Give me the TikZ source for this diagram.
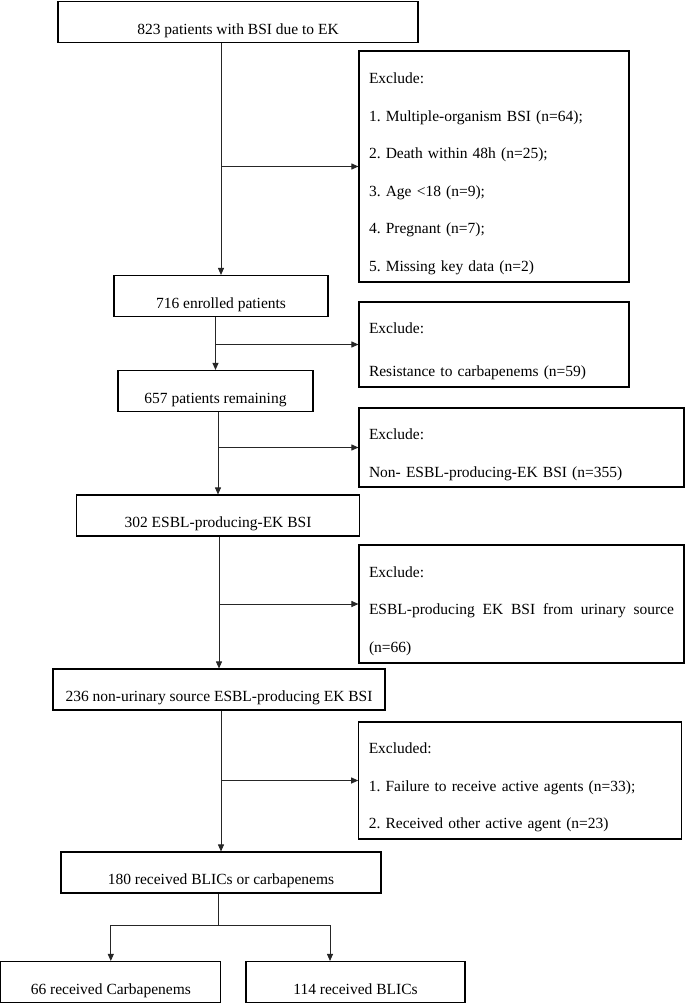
\documentclass[tikz,border=0pt]{standalone}
\usepackage{fontspec}
\setmainfont{Liberation Serif}
\usetikzlibrary{arrows.meta}
\frenchspacing

% Styles du diagramme
\tikzset{
  etape/.style={draw, line width=1.1pt, minimum width=#1, minimum height=41pt,
    inner sep=0pt, text height=24pt, text depth=0pt,
    font=\fontsize{15.5}{18}\selectfont},
  exclu/.style={draw, line width=1.1pt, text width=#1, inner xsep=10pt, inner ysep=0pt,
    align=left, font=\fontsize{15.5}{37.5}\selectfont},
  trait/.style={line width=0.9pt, gray!30!black},
  fleche/.style={trait, -{Triangle[length=7pt,width=6pt]}},
}
\newcommand{\haut}{\rule{0pt}{25pt}}

\begin{document}
\begin{tikzpicture}[x=1pt, y=-1pt]
            \useasboundingbox (0,0) rectangle (685,1004);

            % Étapes principales
            \node[etape=360pt] (b1) at (238,22) {823 patients with BSI due to EK};
            \node[etape=214pt] (b2) at (221,296) {716 enrolled patients};
            \node[etape=195pt] (b3) at (215.5,391) {657 patients remaining};
            \node[etape=283.5pt] (b4) at (218,515.5) {302 ESBL-producing-EK BSI};
            \node[etape=332pt] (b5) at (219,689.5) {236 non-urinary source ESBL-producing EK BSI};
            \node[etape=320pt] (b6) at (221,872.5) {180 received BLICs or carbapenems};
            \node[etape=220pt] (b7) at (110.8,982) {66 received Carbapenems};
            \node[etape=219pt] (b8) at (355.5,982) {114 received BLICs};

            % Boîtes d'exclusion
            \node[exclu=250pt, minimum width=270pt, minimum height=231pt] (x1) at (494,166.5)
              {\haut Exclude:\\ 1. Multiple-organism BSI (n=64);\\ 2. Death within 48h (n=25);\\
               3. Age <18 (n=9);\\ 4. Pregnant (n=7);\\ 5. Missing key data (n=2)};
            \node[exclu=250pt, minimum width=270pt, minimum height=85pt] (x2) at (494,344.5)
              {\haut Exclude:\\[5.5pt] Resistance to carbapenems (n=59)};
            \node[exclu=305pt, minimum width=325pt, minimum height=79pt] (x3) at (521.5,447.5)
              {\haut Exclude:\\ Non- ESBL-producing-EK BSI (n=355)};
            \node[exclu=305pt, minimum width=325pt, minimum height=118pt, align=justify] (x4) at (521.5,604)
              {\tolerance=10000\hyphenpenalty=10000 \haut Exclude:\\ ESBL-producing EK BSI from urinary source (n=66)};
            \node[exclu=302.5pt, minimum width=322.5pt, minimum height=117pt] (x5) at (520,780.5)
              {\haut Excluded:\\ 1. Failure to receive active agents (n=33);\\ 2. Received other active agent (n=23)};

            % Flux vertical
            \draw[fleche] (b1.south -| b2.north) -- (b2.north);
            \draw[fleche] (b2.south -| b3.north) -- (b3.north);
            \draw[fleche] (b3.south -| b4.north) -- (b4.north);
            \draw[fleche] (b4.south -| b5.north) -- (b5.north);
            \draw[fleche] (b5.south -| b6.north) -- (b6.north);

            % Flèches vers les exclusions
            \draw[fleche] (b2.north |- x1.west) -- (x1.west);
            \draw[fleche] (b3.north |- x2.west) -- (x2.west);
            \draw[fleche] (b4.north |- x3.west) -- (x3.west);
            \draw[fleche] (b5.north |- x4.west) -- (x4.west);
            \draw[fleche] (b6.north |- x5.west) -- (x5.west);

            % Séparation finale
            \coordinate (bif) at (218,925);
            \coordinate (bifd) at (330,925);
            \draw[trait] (b6.south -| bif) -- (bif);
            \draw[trait] (b7.north |- bif) -- (bifd);
            \draw[fleche] (b7.north |- bif) -- (b7.north);
            \draw[fleche] (bifd) -- (bifd |- b8.north);

        \end{tikzpicture}
\end{document}
